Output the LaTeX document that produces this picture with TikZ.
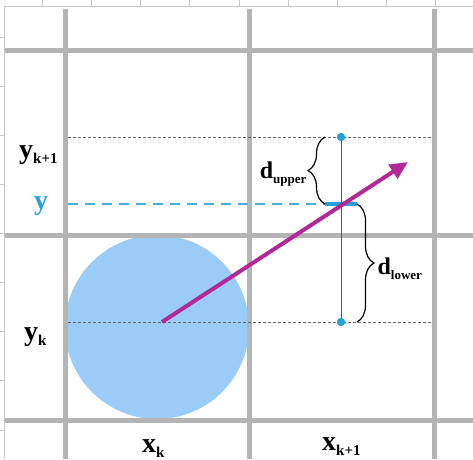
\documentclass[tikz,border=0pt]{standalone}
\usepackage{fontspec}
\setmainfont{Liberation Serif}
\usepackage{xcolor}
\usepackage{tikz}
\usetikzlibrary{arrows.meta, positioning, decorations.pathreplacing, calc}

\definecolor{gridgray}{RGB}{180,180,180}
\definecolor{rulegray}{RGB}{200,200,200}
\definecolor{circblue}{RGB}{155,204,248}
\definecolor{raymag}{RGB}{178,40,150}
\definecolor{ptblue}{RGB}{38,160,218}
\definecolor{ycyan}{RGB}{70,175,222}

\tikzstyle{rule} = [line width=0.6pt, draw=rulegray]
\tikzstyle{gridline} = [line width=5pt, draw=gridgray]
\tikzstyle{guide} = [dash pattern=on 3pt off 2pt, line width=0.7pt, draw=gray!80!black]
\tikzstyle{ydash} = [dash pattern=on 10pt off 7pt, line width=2pt, draw=ycyan]
\tikzstyle{hitbar} = [line width=4pt, draw=ptblue]
\tikzstyle{stem} = [line width=0.7pt, draw=gray!70!black]
\tikzstyle{dot} = [circle, fill=ptblue, minimum size=8pt, inner sep=0pt]
\tikzstyle{ray} = [-{Triangle[length=18pt, width=16pt]}, line width=4pt, draw=raymag]
\tikzstyle{bracket} = [decorate, decoration={brace, amplitude=17pt, aspect=0.5}, line width=1.2pt, draw=black]
\tikzstyle{axislabel} = [font=\fontsize{28}{28}\selectfont\bfseries, inner sep=0pt, anchor=base west]
\tikzstyle{dlabel} = [font=\fontsize{24}{24}\selectfont\bfseries, inner sep=0pt]

\newcommand{\lowidx}[2]{\raisebox{-5pt}{\fontsize{#1}{#1}\selectfont #2}}

\begin{document}
\begin{tikzpicture}[x=1pt, y=-1pt]
    \useasboundingbox (0,0) rectangle (473,459);

    % === RULERS ===
    \draw[rule] (4,6) -- (473,6);
    \draw[rule] (4,6) -- (4,459);
    \foreach \tx in {0,...,8} {\draw[rule] ({42+49.2*\tx},0) -- ({42+49.2*\tx},6);}
    \foreach \ty in {0,...,8} {\draw[rule] (0,{37+49.1*\ty}) -- (4,{37+49.1*\ty});}

    % === PIXEL DISC ===
    \fill[circblue] (157,327) circle (92);

    % === GRID ===
    \draw[gridline] (65,9) -- (65,459);
    \draw[gridline] (249,9) -- (249,459);
    \draw[gridline] (434,9) -- (434,459);
    \draw[gridline] (5,50) -- (473,50);
    \draw[gridline] (5,235) -- (473,235);
    \draw[gridline] (5,420) -- (473,420);

    % === POINTS ===
    \coordinate (gk1) at (68,137);
    \coordinate (gk1end) at (432,137);
    \coordinate (gk) at (68,322);
    \coordinate (gkend) at (432,322);
    \coordinate (yline) at (68,204);
    \coordinate (hit) at (341,204);
    \coordinate (origin) at (162,322);
    \coordinate (aim) at (408,162);
    \node[dot] (upperpt) at (341,137) {};
    \node[dot] (lowerpt) at (341,322) {};

    % guides at y_k+1, y and y_k
    \draw[guide] (gk1) -- (gk1end);
    \draw[guide] (gk) -- (gkend);
    \draw[ydash] (yline) -- ([xshift=-16pt]hit);
    \draw[hitbar] ([xshift=-16pt]hit) -- ([xshift=16pt]hit);
    \draw[stem] (upperpt.center) -- (lowerpt.center);

    % the line through the grid
    \draw[ray] (origin) -- (aim);
    \node[dot] at (upperpt) {};
    \node[dot] at (lowerpt) {};

    % === DISTANCES ===
    \draw[bracket] ([xshift=-16pt]hit) -- node[dlabel, anchor=east, xshift=-18pt, yshift=-4pt] {d\lowidx{13}{upper}} ([xshift=-16pt]upperpt.center);
    \draw[bracket] ([xshift=16pt]hit) -- node[dlabel, anchor=west, xshift=20pt, yshift=-6pt] {d\lowidx{13}{lower}} ([xshift=16pt]lowerpt.center);

    % === AXIS LABELS ===
    \node[axislabel] (yk1) at (19,158) {y\lowidx{15}{k+1}};
    \node[axislabel, text=ptblue] (ylbl) at (34,209) {y};
    \node[axislabel] (yk) at (24,340) {y\lowidx{15}{k}};
    \node[axislabel] (xk) at (142,452) {x\lowidx{15}{k}};
    \node[axislabel] (xk1) at (322,450) {x\lowidx{15}{k+1}};
\end{tikzpicture}
\end{document}
